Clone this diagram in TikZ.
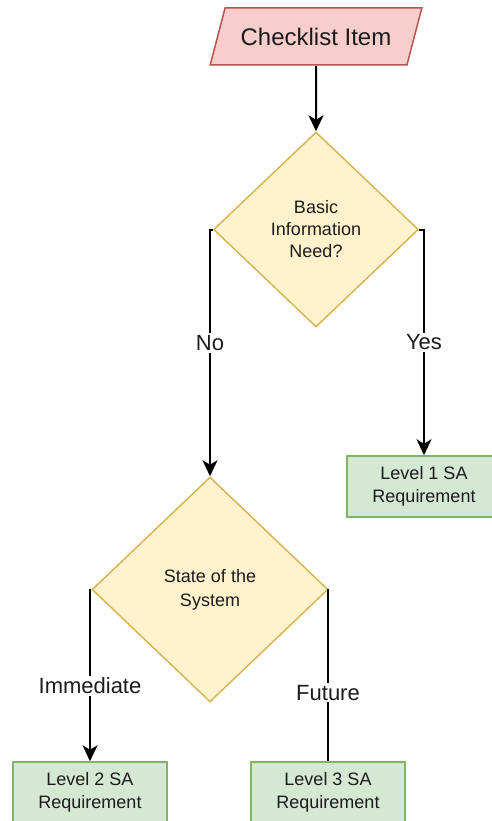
\documentclass[tikz,border=0pt]{standalone}
\usepackage{fontspec}
\setmainfont{Liberation Sans}
\usetikzlibrary{shapes.geometric,arrows.meta}
\definecolor{redfill}{HTML}{F8CECC}
\definecolor{redline}{HTML}{B85450}
\definecolor{yelfill}{HTML}{FFF2CC}
\definecolor{yelline}{HTML}{D6B656}
\definecolor{grnfill}{HTML}{D5E8D4}
\definecolor{grnline}{HTML}{82B366}
\definecolor{ink}{HTML}{1C1C1C}
\tikzset{
  inputbox/.style={trapezium, trapezium left angle=55, trapezium right angle=125,
    trapezium stretches=true, minimum width=212pt, minimum height=57pt,
    fill=redfill, draw=redline, line width=1.5pt, inner sep=0pt,
    text=ink, font=\fontsize{24pt}{28pt}\selectfont},
  decision/.style={diamond, fill=yelfill, draw=yelline, line width=1.5pt,
    inner sep=0pt, text=ink, align=center},
  reqbox/.style={rectangle, fill=grnfill, draw=grnline, line width=1.5pt,
    minimum width=154pt, minimum height=61pt, inner sep=0pt, align=center,
    text=ink, font=\fontsize{18pt}{23pt}\selectfont},
  flow/.style={draw=black, line width=2pt},
  arrowflow/.style={flow, -{Stealth[length=16pt,width=15pt,inset=4.5pt]}},
  branchlabel/.style={fill=white, inner sep=2pt, text=ink,
    font=\fontsize{22pt}{26pt}\selectfont}
}
\begin{document}
\begin{tikzpicture}[x=1pt,y=-1pt]
  \useasboundingbox (0,0) rectangle (491,821);

  % shapes
  \node[inputbox] (item) at (316,36.5) {Checklist Item};
  \node[decision, minimum width=205pt, minimum height=195pt,
        font=\fontsize{18pt}{22pt}\selectfont] (basic) at (316,229.5)
        {Basic\\Information\\Need?};
  \node[decision, minimum width=236pt, minimum height=225pt,
        font=\fontsize{18pt}{24pt}\selectfont] (state) at (210,589.5)
        {State of the\\System};
  \node[reqbox] (lvl1) at (424,486.5) {Level 1 SA\\Requirement};
  \node[reqbox] (lvl2) at (90,792.5) {Level 2 SA\\Requirement};
  \node[reqbox] (lvl3) at (328,792.5) {Level 3 SA\\Requirement};

  % connectors
  \draw[arrowflow] (item.south) -- (basic.north);
  \draw[arrowflow] (basic.west) -| (state.north)
    node[branchlabel, pos=0.73] (nolbl) {No};
  \draw[arrowflow] (basic.east) -| (lvl1.north)
    node[branchlabel, pos=0.75] (yeslbl) {Yes};
  \draw[arrowflow] (state.west) -| (lvl2.north)
    node[branchlabel, pos=0.78] (immlbl) {Immediate};
  \draw[flow] (state.east) -| (lvl3.north)
    node[branchlabel, pos=0.8] (futlbl) {Future};
\end{tikzpicture}
\end{document}
